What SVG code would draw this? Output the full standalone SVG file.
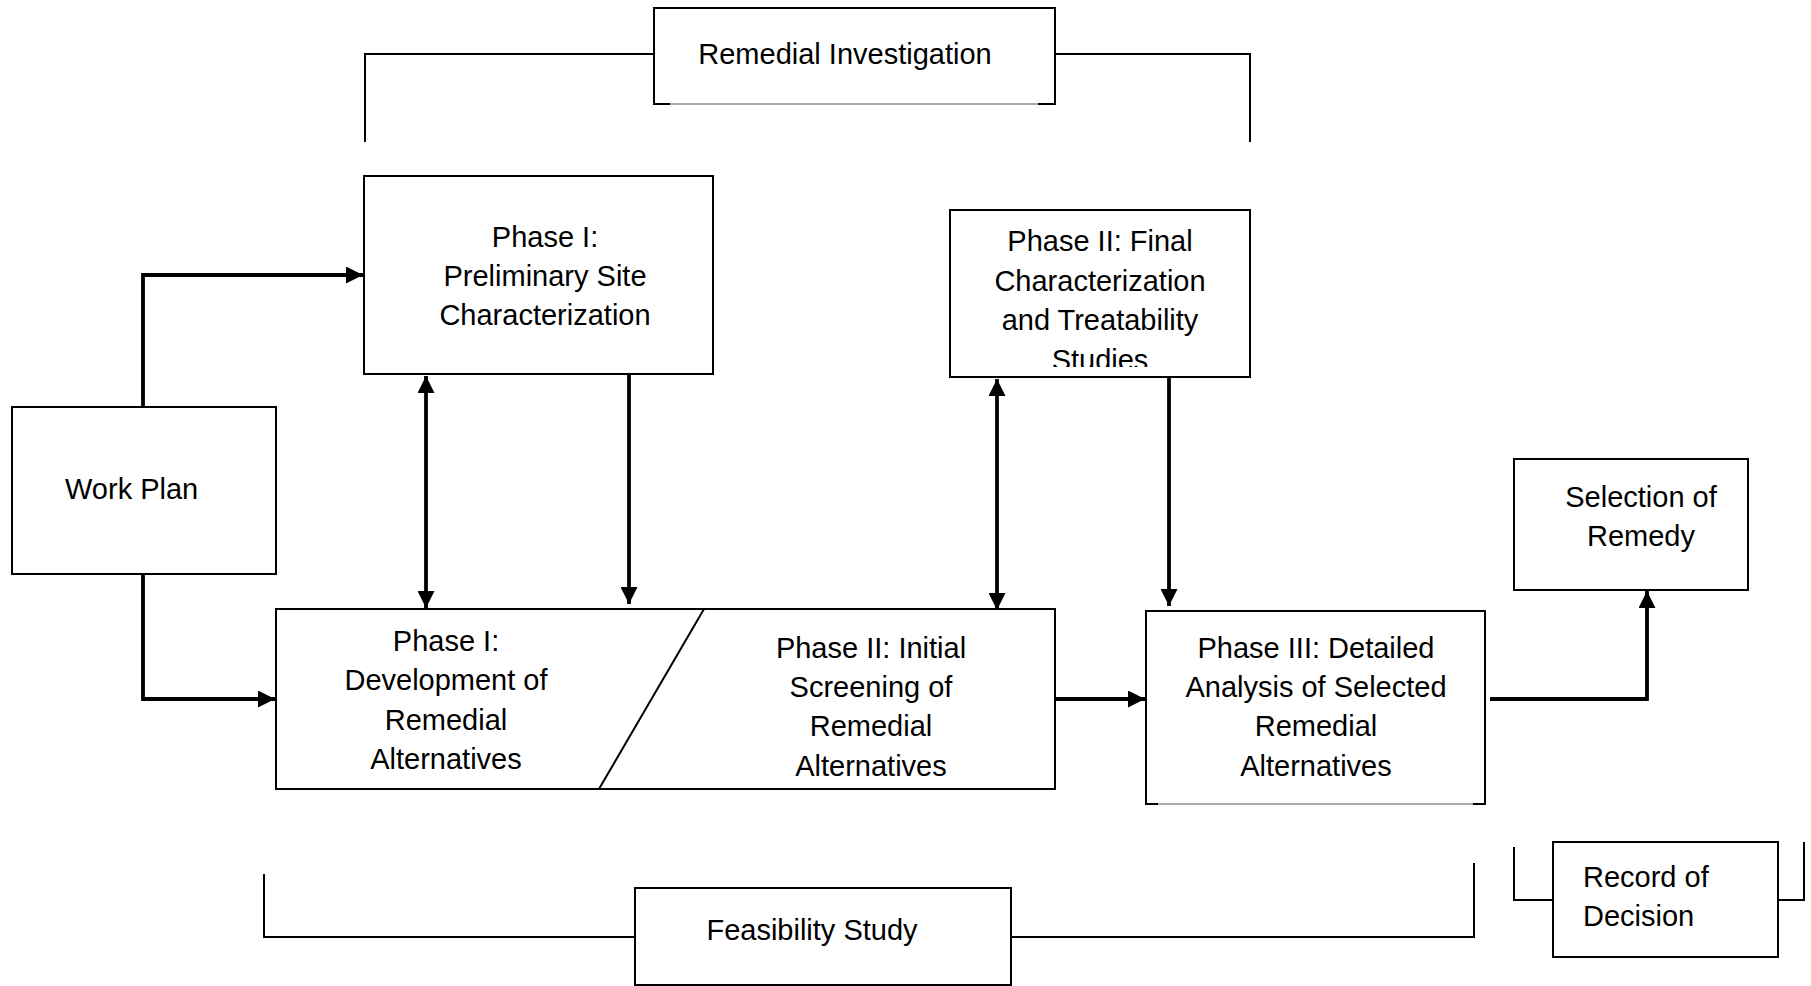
<svg xmlns="http://www.w3.org/2000/svg" width="1811" height="986" viewBox="0 0 1811 986">
<style>
.box{fill:#fff;stroke:#000;stroke-width:2}
.br{fill:none;stroke:#000;stroke-width:2}
.t{font-family:"Liberation Sans",Arial,sans-serif;font-size:29px;fill:#000}
.c{text-anchor:middle}
.con{fill:none;stroke:#000;stroke-width:3.8}
</style>
<defs>
<marker id="ah" markerUnits="userSpaceOnUse" markerWidth="17" markerHeight="17" viewBox="0 0 17 17" refX="17" refY="8.5" orient="auto-start-reverse">
<path d="M0,0 L17,8.5 L0,17 Z" fill="#000"/>
</marker>
<clipPath id="clipP2"><rect x="951" y="211" width="298" height="156"/></clipPath>
</defs>
<rect width="1811" height="986" fill="#fff"/>

<g id="ri-bracket">
<polyline class="br" points="365,142 365,54 654,54"/>
<polyline class="br" points="1055,54 1250,54 1250,142"/>
</g>
<g id="remedial-investigation">
<path class="box" d="M654,104 L654,8 L1055,8 L1055,104"/>
<path d="M653,104 L670,104 M1038,104 L1056,104" stroke="#000" stroke-width="2"/>
<path d="M670,104 L1038,104" stroke="#555" stroke-width="1"/>
<text class="t c" x="845" y="64">Remedial Investigation</text>
</g>

<g id="work-plan">
<rect class="box" x="12" y="407" width="264" height="167"/>
<text class="t" x="65" y="499">Work Plan</text>
</g>

<g id="phase1-prelim">
<rect class="box" x="364" y="176" width="349" height="198"/>
<text class="t c" x="545" y="247">Phase I:</text>
<text class="t c" x="545" y="286">Preliminary Site</text>
<text class="t c" x="545" y="325">Characterization</text>
</g>

<g id="phase2-final">
<rect class="box" x="950" y="210" width="300" height="167"/>
<g clip-path="url(#clipP2)">
<text class="t c" x="1100" y="251">Phase II: Final</text>
<text class="t c" x="1100" y="291">Characterization</text>
<text class="t c" x="1100" y="330">and Treatability</text>
<text class="t c" x="1100" y="370">Studies</text>
</g>
</g>

<g id="alternatives">
<rect class="box" x="276" y="609" width="779" height="180"/>
<line x1="704" y1="609" x2="599" y2="789" stroke="#000" stroke-width="2"/>
<text class="t c" x="446" y="651">Phase I:</text>
<text class="t c" x="446" y="690">Development of</text>
<text class="t c" x="446" y="730">Remedial</text>
<text class="t c" x="446" y="769">Alternatives</text>
<text class="t c" x="871" y="658">Phase II: Initial</text>
<text class="t c" x="871" y="697">Screening of</text>
<text class="t c" x="871" y="736">Remedial</text>
<text class="t c" x="871" y="776">Alternatives</text>
</g>

<g id="phase3">
<path class="box" d="M1146,804 L1146,611 L1485,611 L1485,804"/>
<path d="M1145,804 L1158,804 M1473,804 L1486,804" stroke="#000" stroke-width="2"/>
<path d="M1158,804 L1473,804" stroke="#555" stroke-width="1"/>
<text class="t c" x="1316" y="658">Phase III: Detailed</text>
<text class="t c" x="1316" y="697">Analysis of Selected</text>
<text class="t c" x="1316" y="736">Remedial</text>
<text class="t c" x="1316" y="776">Alternatives</text>
</g>

<g id="selection-of-remedy">
<rect class="box" x="1514" y="459" width="234" height="131"/>
<text class="t c" x="1641" y="507">Selection of</text>
<text class="t c" x="1641" y="546">Remedy</text>
</g>

<g id="fs-bracket">
<polyline class="br" points="264,874 264,937 635,937"/>
<polyline class="br" points="1011,937 1474,937 1474,863"/>
</g>
<g id="feasibility-study">
<rect class="box" x="635" y="888" width="376" height="97"/>
<text class="t c" x="812" y="940">Feasibility Study</text>
</g>

<g id="rod-bracket">
<polyline class="br" points="1514,847 1514,900 1553,900"/>
<polyline class="br" points="1778,900 1804,900 1804,842"/>
</g>
<g id="record-of-decision">
<rect class="box" x="1553" y="842" width="225" height="115"/>
<text class="t" x="1583" y="887">Record of</text>
<text class="t" x="1583" y="926">Decision</text>
</g>

<g id="connectors">
<polyline class="con" points="143,407 143,275 363,275" marker-end="url(#ah)"/>
<polyline class="con" points="143,574 143,699 275,699" marker-end="url(#ah)"/>
<line class="con" x1="426" y1="376" x2="426" y2="608" marker-start="url(#ah)" marker-end="url(#ah)"/>
<line class="con" x1="629" y1="374" x2="629" y2="604" marker-end="url(#ah)"/>
<line class="con" x1="997" y1="379" x2="997" y2="610" marker-start="url(#ah)" marker-end="url(#ah)"/>
<line class="con" x1="1169" y1="377" x2="1169" y2="606" marker-end="url(#ah)"/>
<line class="con" x1="1055" y1="699" x2="1145" y2="699" marker-end="url(#ah)"/>
<polyline class="con" points="1490,699 1647,699 1647,591" marker-end="url(#ah)"/>
</g>
</svg>
